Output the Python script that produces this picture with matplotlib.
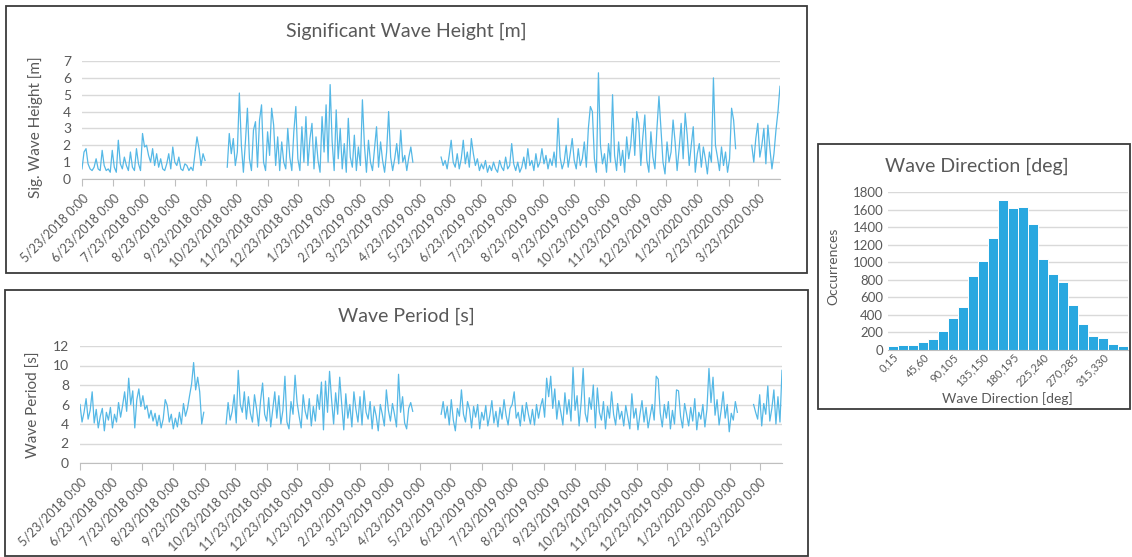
import matplotlib
matplotlib.use("Agg")
import matplotlib.pyplot as plt
import matplotlib.patches as patches
import pandas as pd
import numpy as np

# ---------------- data ----------------
seg_starts = ["2018-05-23", "2018-10-14", "2019-05-14", "2020-03-17"]

hs_seg1 = [0.6, 1.6, 1.8, 0.9, 0.6, 0.5, 0.7, 1.2, 0.6, 0.5,
           1.7, 0.8, 0.5, 0.6, 0.4, 1.7, 0.7, 0.4, 2.3, 0.9,
           0.6, 1.3, 0.8, 0.5, 1.6, 0.7, 0.5, 1.8, 0.9, 0.5,
           2.7, 1.9, 2.0, 1.4, 1.0, 1.8, 0.8, 1.5, 0.7, 1.2,
           0.6, 0.5, 0.9, 1.5, 0.6, 1.9, 1.0, 0.8, 1.3, 0.6,
           0.5, 0.9, 0.8, 0.5, 0.7, 0.5, 1.5, 2.5, 1.8, 0.8,
           1.5, 1.1]
hs_seg2 = [0.7, 2.7, 1.5, 2.4, 0.8, 1.6, 5.1, 2.0, 0.4, 2.2,
           4.2, 1.2, 0.5, 2.9, 3.4, 0.7, 3.5, 4.4, 1.0, 0.5,
           2.8, 1.4, 4.2, 3.2, 0.8, 2.5, 0.5, 2.2, 1.0, 0.6,
           3.0, 1.3, 0.5, 2.8, 4.3, 1.2, 0.5, 3.1, 1.0, 3.7,
           0.8, 2.4, 3.3, 0.6, 2.5, 1.1, 0.4, 3.7, 1.6, 4.4,
           1.0, 5.6, 2.2, 0.5, 4.1, 1.2, 3.0, 0.6, 2.1, 0.4,
           3.6, 1.3, 0.7, 2.6, 0.5, 1.9, 0.8, 4.7, 2.0, 0.4,
           2.3, 1.0, 0.5, 1.8, 3.1, 0.7, 2.2, 1.1, 0.4, 1.6,
           4.0, 1.3, 0.5, 1.2, 2.1, 0.9, 2.9, 1.0, 1.4, 0.5,
           1.3, 1.9, 1.0]
hs_seg3 = [1.3, 0.8, 1.1, 0.6, 1.4, 2.3, 1.0, 0.7, 1.5, 0.6,
           1.2, 2.3, 0.9, 1.6, 0.7, 2.4, 1.5, 0.8, 1.2, 0.5,
           0.9, 0.6, 1.1, 0.4, 0.8, 0.5, 1.0, 0.6, 0.4, 1.1,
           0.7, 0.5, 1.3, 0.6, 0.8, 2.1, 0.9, 0.5, 1.0, 0.4,
           0.7, 1.3, 0.6, 1.8, 0.8, 1.1, 0.5, 1.5, 0.7, 1.0,
           1.8, 0.9, 1.4, 0.6, 1.2, 0.8, 1.6, 0.7, 3.6, 1.3,
           0.6, 1.0, 2.0, 0.7, 1.5, 2.4, 1.1, 0.6, 1.8, 0.8,
           1.2, 2.2, 0.7, 3.0, 4.3, 4.0, 1.2, 0.4, 6.3, 2.0,
           0.9, 1.5, 0.4, 2.1, 1.0, 5.0, 1.4, 0.5, 2.2, 0.8,
           1.7, 0.4, 2.5, 1.2, 2.0, 3.6, 1.4, 4.0, 3.3, 0.8,
           2.5, 3.8, 1.1, 0.4, 2.8, 1.3, 0.6, 3.0, 4.9, 3.0,
           1.0, 0.3, 2.2, 1.0, 1.6, 3.5, 2.2, 0.5, 1.8, 3.3,
           1.2, 3.9, 2.6, 0.8, 2.0, 3.1, 0.4, 1.5, 2.1, 0.7,
           1.9, 1.2, 0.3, 1.6, 1.0, 6.0, 2.0, 1.3, 0.5, 1.9,
           0.8, 1.6, 0.4, 1.2, 4.2, 3.5, 1.8]
hs_seg4 = [2.0, 1.0, 2.4, 3.3, 1.3, 2.0, 3.0, 0.9, 3.2, 1.8,
           0.6, 1.5, 2.9, 4.0, 5.5]

tp_seg1 = [6.0, 4.2, 5.2, 6.6, 4.5, 5.4, 7.3, 4.1, 5.5, 3.6,
           4.8, 5.6, 3.3, 5.2, 4.4, 5.7, 3.6, 5.0, 4.2, 6.2,
           4.7, 5.9, 7.3, 5.3, 8.7, 6.0, 7.4, 3.6, 6.5, 7.6,
           5.8, 6.9, 5.5, 5.9, 4.6, 5.4, 4.3, 5.1, 3.8, 4.9,
           3.6, 4.5, 6.5, 5.9, 4.2, 5.0, 3.5, 4.6, 3.7, 5.2,
           4.0, 6.1, 4.8, 5.6, 6.9, 8.1, 10.3, 7.5, 8.8, 7.3,
           4.0, 5.2]
tp_seg2 = [4.0, 6.2, 4.4, 5.3, 7.0, 4.1, 9.5, 6.0, 5.2, 7.3,
           4.5, 6.8, 5.1, 4.2, 7.0, 5.6, 3.8, 6.4, 8.2, 5.0,
           4.3, 6.7, 3.7, 5.5, 7.3, 4.6, 6.9, 4.0, 5.4, 8.9,
           4.2, 3.5, 6.3, 5.0, 9.0, 6.2, 4.8, 3.6, 7.0, 5.3,
           4.5, 6.6, 3.8, 5.8, 4.3, 7.0, 5.5, 8.3, 3.4, 8.4,
           5.2, 9.4, 6.5, 4.0, 7.2, 5.0, 8.8, 6.0, 3.4, 7.1,
           4.6, 6.0, 3.7, 7.3, 5.5, 4.2, 6.8, 3.9, 7.4, 5.2,
           4.5, 6.3, 3.5, 5.8, 4.8, 3.3, 6.0, 5.0, 3.8, 7.5,
           5.4, 4.3, 6.1, 5.0, 3.7, 9.1, 5.2, 6.8, 4.1, 3.5,
           5.6, 6.2, 5.3]
tp_seg3 = [5.0, 6.3, 4.6, 5.8, 3.9, 6.5, 4.4, 3.3, 5.6, 4.8,
           7.5, 5.0, 4.2, 6.3, 5.5, 3.6, 5.8, 4.7, 6.0, 3.5,
           5.2, 4.4, 5.9, 3.8, 4.9, 6.4, 4.1, 5.3, 3.7, 5.7,
           4.5, 6.5, 4.9, 3.9, 5.6, 6.0, 7.3, 4.6, 5.2, 3.8,
           5.9, 4.3, 6.2, 5.0, 4.0, 5.5, 3.9, 6.0, 4.6, 5.8,
           6.6, 4.7, 8.7, 6.8, 8.9, 5.6, 7.6, 4.5, 6.4, 5.2,
           3.9, 7.2, 5.0, 6.5, 4.3, 9.8, 5.4, 6.9, 3.8, 6.2,
           9.7, 5.1, 4.2, 6.7, 5.5, 8.0, 3.6, 7.7, 5.2, 4.4,
           6.3, 3.5, 5.8, 4.6, 7.3, 5.0, 3.9, 6.1, 4.5, 5.3,
           3.8, 5.9, 4.7, 3.5, 7.1, 4.6, 5.6, 3.4, 5.0, 6.4,
           4.2, 5.7, 3.6, 4.8, 6.0, 4.4, 8.9, 8.6, 5.1, 3.7,
           6.0, 4.6, 6.3, 3.5, 5.4, 4.0, 7.5, 7.4, 4.8, 3.6,
           6.1, 5.0, 3.8, 5.7, 4.3, 6.6, 3.4, 5.2, 4.5, 6.0,
           3.7, 5.5, 9.7, 6.2, 8.8, 4.9, 6.5, 3.9, 5.4, 7.3,
           4.6, 6.0, 3.2, 5.1, 4.4, 6.3, 5.2]
tp_seg4 = [6.0, 5.2, 4.5, 7.0, 3.8, 6.1, 5.0, 7.9, 4.3, 5.6,
           7.5, 4.0, 6.8, 4.2, 9.5]

dir_bins = ["0,15", "15,30", "30,45", "45,60", "60,75", "75,90", "90,105", "105,120",
            "120,135", "135,150", "150,165", "165,180", "180,195", "195,210", "210,225",
            "225,240", "240,255", "255,270", "270,285", "285,300", "300,315", "315,330",
            "330,345", "345,360"]
dir_counts = [50, 60, 60, 95, 120, 220, 360, 485, 840, 1010, 1280, 1710,
              1620, 1630, 1430, 1040, 870, 775, 510, 295, 155, 135, 70, 45]

tick_dates = pd.date_range("2018-05-01", "2020-03-01", freq="MS") + pd.Timedelta(days=22)
tick_labels = [f"{d.month}/{d.day}/{d.year} 0:00" for d in tick_dates]

# ---------------- style ----------------
LINE = "#55b8e6"
BAR = "#29a8e0"
TXT = "#595959"
GRID = "#d9d9d9"
AXL = "#bfbfbf"
FONT = "Lato"
plt.rcParams["font.family"] = [FONT, "DejaVu Sans"]

W, H = 1132, 557
fig = plt.figure(figsize=(W / 100, H / 100), dpi=100)
fig.patch.set_facecolor("white")


def fx(x):
    return x / W


def fy(y):
    return 1 - y / H


def box(x0, y0, x1, y1):
    r = patches.Rectangle((fx(x0), fy(y1)), fx(x1) - fx(x0), fy(y0) - fy(y1),
                          transform=fig.transFigure, fill=False,
                          edgecolor="#3a3a3a", lw=1.3)
    fig.add_artist(r)


box(6, 6, 807, 273)
box(5, 290, 808, 556)
box(818, 144, 1130, 409)


def ts_axes(rect, segs, ylim, yticks):
    ax = fig.add_axes(rect)
    for start, vals in zip(seg_starts, segs):
        dates = pd.date_range(start, periods=len(vals), freq="2D")
        ax.plot(dates, vals, color=LINE, lw=0.9)
    first = pd.Timestamp(seg_starts[0])
    last = pd.date_range(seg_starts[-1], periods=len(segs[-1]), freq="2D")[-1]
    ax.set_xlim(first, last)
    ax.set_ylim(*ylim)
    ax.set_yticks(yticks)
    ax.set_yticklabels([str(v) for v in yticks], color=TXT, fontsize=10)
    ax.set_xticks(tick_dates)
    ax.set_xticklabels(tick_labels, rotation=45, ha="right", rotation_mode="anchor",
                       color=TXT, fontsize=9)
    ax.tick_params(axis="y", length=0, pad=8)
    ax.tick_params(axis="x", length=5, color=AXL, width=0.8, pad=4)
    for s in ["top", "right", "left"]:
        ax.spines[s].set_visible(False)
    ax.spines["bottom"].set_color(AXL)
    ax.grid(axis="y", color=GRID, lw=1)
    ax.set_axisbelow(True)
    return ax


ax1 = ts_axes([fx(82), fy(179), fx(780) - fx(82), fy(61) - fy(179)],
              [hs_seg1, hs_seg2, hs_seg3, hs_seg4], (0, 7), list(range(0, 8)))
ax2 = ts_axes([fx(80), fy(463), fx(782) - fx(80), fy(346) - fy(463)],
              [tp_seg1, tp_seg2, tp_seg3, tp_seg4], (0, 12), list(range(0, 13, 2)))

fig.text(fx(36), fy(127), "Sig. Wave Height [m]", rotation=90, ha="center", va="center",
         color=TXT, fontsize=11)
fig.text(fx(34), fy(405), "Wave Period [s]", rotation=90, ha="center", va="center",
         color=TXT, fontsize=11)

fig.text(fx(406), fy(31), "Significant Wave Height [m]", ha="center", va="center",
         color=TXT, fontsize=14)
fig.text(fx(406), fy(316), "Wave Period [s]", ha="center", va="center",
         color=TXT, fontsize=14)

# histogram
ax3 = fig.add_axes([fx(888), fy(350), fx(1128) - fx(888), fy(192) - fy(350)])
xs = np.arange(len(dir_counts))
ax3.bar(xs, dir_counts, width=1.0, color=BAR, edgecolor="white", lw=0.7)
ax3.set_xlim(-0.5, len(dir_counts) - 0.5)
ax3.set_ylim(0, 1800)
ax3.set_yticks(range(0, 1801, 200))
ax3.set_yticklabels([str(v) for v in range(0, 1801, 200)], color=TXT, fontsize=9.5)
ax3.set_xticks(xs[::3])
ax3.set_xticklabels(dir_bins[::3], rotation=45, ha="right", rotation_mode="anchor",
                    color=TXT, fontsize=8)
ax3.tick_params(axis="both", length=0)
ax3.tick_params(axis="x", pad=1)
for s in ["top", "right", "left"]:
    ax3.spines[s].set_visible(False)
ax3.spines["bottom"].set_color(AXL)
ax3.grid(axis="y", color=GRID, lw=1)
ax3.set_axisbelow(True)
fig.text(fx(833), fy(266), "Occurrences", rotation=90, ha="center", va="center",
         color=TXT, fontsize=10)
fig.text(fx(1007), fy(399), "Wave Direction [deg]", ha="center", va="center",
         color=TXT, fontsize=10)
fig.text(fx(977), fy(166), "Wave Direction [deg]", ha="center", va="center",
         color=TXT, fontsize=14)

fig.savefig("out.png", dpi=100, facecolor="white")
